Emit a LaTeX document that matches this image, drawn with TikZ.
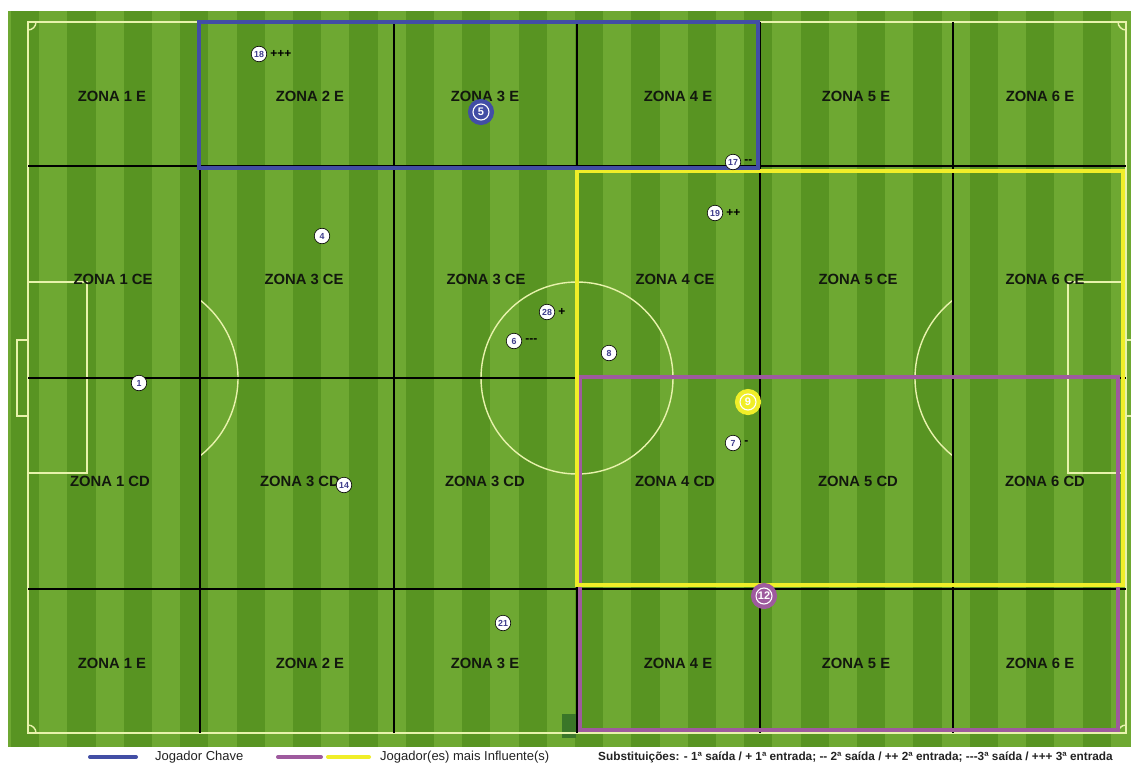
\documentclass[tikz,border=0pt]{standalone}
\usepackage{fontspec}
\setmainfont{Liberation Sans}
\usepackage{graphicx}
\definecolor{grassL}{RGB}{110,168,50}
\definecolor{grassD}{RGB}{88,148,34}
\definecolor{pline}{RGB}{232,242,172}
\definecolor{keyblue}{RGB}{66,78,165}
\definecolor{keypurple}{RGB}{158,90,158}
\definecolor{keyyellow}{RGB}{240,238,40}
\definecolor{zonetext}{RGB}{18,24,14}
\definecolor{numblue}{RGB}{62,60,140}
\definecolor{legendtext}{RGB}{35,35,35}
\definecolor{patch}{RGB}{58,118,40}
\begin{document}
\begin{tikzpicture}[x=1pt,y=-1pt,
  zone/.style={font=\fontsize{14.8}{16}\selectfont\bfseries,text=zonetext,inner sep=0},
  player/.style={circle,draw=black,line width=0.6,fill=white,minimum size=15.5,inner sep=0,font=\fontsize{8.8}{9}\selectfont\bfseries,text=numblue},
  keyplayer/.style={circle,fill=#1,draw=white,line width=1.1,minimum size=16,inner sep=0,preaction={draw=#1,line width=10},font=\fontsize{11}{12}\selectfont\bfseries,text=white},
  subtag/.style={anchor=west,inner sep=0,font=\fontsize{12}{13}\selectfont\bfseries,text=black,xshift=3},
  gridline/.style={black,line width=1.5},
  pitchline/.style={pline,line width=1.4},
  keybox/.style={line width=4.5,draw=#1},
  legendtxt/.style={anchor=west,inner sep=0,text=legendtext},
  swatch/.style={line width=4,line cap=round,draw=#1}
]
\useasboundingbox (0,0) rectangle (1131,765);
\fill[white] (0,0) rectangle (1131,765);
% grass
\fill[grassL] (8,11) rectangle (1131,747);
\foreach \k in {0,...,19} \fill[grassD] ({11+56.4*\k},11) rectangle ({11+56.4*\k+28.2},747);
\fill[patch] (562,714) rectangle (576,738);
% pitch markings
\draw[pitchline] (28,22) rectangle (1126,733);
\draw[pitchline] (28,282) -- (87,282) -- (87,473) -- (28,473);
\draw[pitchline] (28,340) -- (17,340) -- (17,416) -- (28,416);
\draw[pitchline] (1126,282) -- (1068,282) -- (1068,473) -- (1126,473);
\draw[pitchline] (1126,340) -- (1131,340);
\draw[pitchline] (1126,416) -- (1131,416);
\draw[pitchline] ([shift={(-52:99)}]139,378) arc[start angle=-52,end angle=52,radius=99];
\draw[pitchline] ([shift={(128:99)}]1014,378) arc[start angle=128,end angle=232,radius=99];
\draw[pitchline] (577,378) circle[radius=96];
\draw[pitchline] (36,22) arc[start angle=0,end angle=90,radius=8];
\draw[pitchline] (1118,22) arc[start angle=180,end angle=90,radius=8];
\draw[pitchline] (28,725) arc[start angle=270,end angle=360,radius=8];
\draw[pitchline] (1118,733) arc[start angle=180,end angle=270,radius=8];
% zone grid
\foreach \x in {200,394,577,760,953} \draw[gridline] (\x,22) -- (\x,733);
\foreach \y in {166,378,589} \draw[gridline] (28,\y) -- (1126,\y);
% highlighted regions
\draw[keybox=keypurple] (580,377) rectangle (1118,730);
\draw[keybox=keyyellow] (577,171) rectangle (1123,585);
\draw[keybox=keyblue] (199,22) rectangle (758,168);
% zone labels
\node[zone] (z11) at (112,96) {ZONA 1 E};
\node[zone] (z12) at (310,96) {ZONA 2 E};
\node[zone] (z13) at (485,96) {ZONA 3 E};
\node[zone] (z14) at (678,96) {ZONA 4 E};
\node[zone] (z15) at (856,96) {ZONA 5 E};
\node[zone] (z16) at (1040,96) {ZONA 6 E};
\node[zone] (z21) at (113,279) {ZONA 1 CE};
\node[zone] (z22) at (304,279) {ZONA 3 CE};
\node[zone] (z23) at (486,279) {ZONA 3 CE};
\node[zone] (z24) at (675,279) {ZONA 4 CE};
\node[zone] (z25) at (858,279) {ZONA 5 CE};
\node[zone] (z26) at (1045,279) {ZONA 6 CE};
\node[zone] (z31) at (110,481) {ZONA 1 CD};
\node[zone] (z32) at (300,481) {ZONA 3 CD};
\node[zone] (z33) at (485,481) {ZONA 3 CD};
\node[zone] (z34) at (675,481) {ZONA 4 CD};
\node[zone] (z35) at (858,481) {ZONA 5 CD};
\node[zone] (z36) at (1045,481) {ZONA 6 CD};
\node[zone] (z41) at (112,663) {ZONA 1 E};
\node[zone] (z42) at (310,663) {ZONA 2 E};
\node[zone] (z43) at (485,663) {ZONA 3 E};
\node[zone] (z44) at (678,663) {ZONA 4 E};
\node[zone] (z45) at (856,663) {ZONA 5 E};
\node[zone] (z46) at (1040,663) {ZONA 6 E};
% players
\node[player] (p18) at (259,54) {18};
\node[subtag] (s18) at (p18.east) {+++};
\node[keyplayer=keyblue] (p5) at (481,112) {5};
\node[player] (p17) at (733,162) {17};
\node[subtag] (s17) at (p17.east) {-{}-};
\node[player] (p19) at (715,213) {19};
\node[subtag] (s19) at (p19.east) {++};
\node[player] (p4) at (322,236) {4};
\node[player] (p28) at (547,312) {28};
\node[subtag] (s28) at (p28.east) {+};
\node[player] (p6) at (514,341) {6};
\node[subtag] (s6) at (p6.east) {-{}-{}-};
\node[player] (p8) at (609,353) {8};
\node[player] (p1) at (139,383) {1};
\node[keyplayer=keyyellow] (p9) at (748,402) {9};
\node[player] (p7) at (733,443) {7};
\node[subtag] (s7) at (p7.east) {-};
\node[player] (p14) at (344,485) {14};
\node[player] (p21) at (503,623) {21};
\node[keyplayer=keypurple] (p12) at (764,596) {12};
% legend
\coordinate (lb1) at (90,757); \coordinate (lb2) at (136,757);
\draw[swatch=keyblue] (lb1) -- (lb2);
\node[legendtxt,font=\fontsize{13}{14}\selectfont] (lt1) at (155,757) {Jogador Chave};
\coordinate (lp1) at (278,757); \coordinate (lp2) at (321,757);
\draw[swatch=keypurple] (lp1) -- (lp2);
\coordinate (ly1) at (328,757); \coordinate (ly2) at (369,757);
\draw[swatch=keyyellow] (ly1) -- (ly2);
\node[legendtxt,font=\fontsize{13}{14}\selectfont] (lt2) at (380,757) {Jogador(es) mais Influente(s)};
\node[legendtxt,font=\fontsize{11.8}{13}\selectfont\bfseries] (lt3) at (598,757) {Substituições: - 1ª saída / + 1ª entrada; -{}- 2ª saída / ++ 2ª entrada; -{}-{}-3ª saída / +++ 3ª entrada};
\end{tikzpicture}
\end{document}
